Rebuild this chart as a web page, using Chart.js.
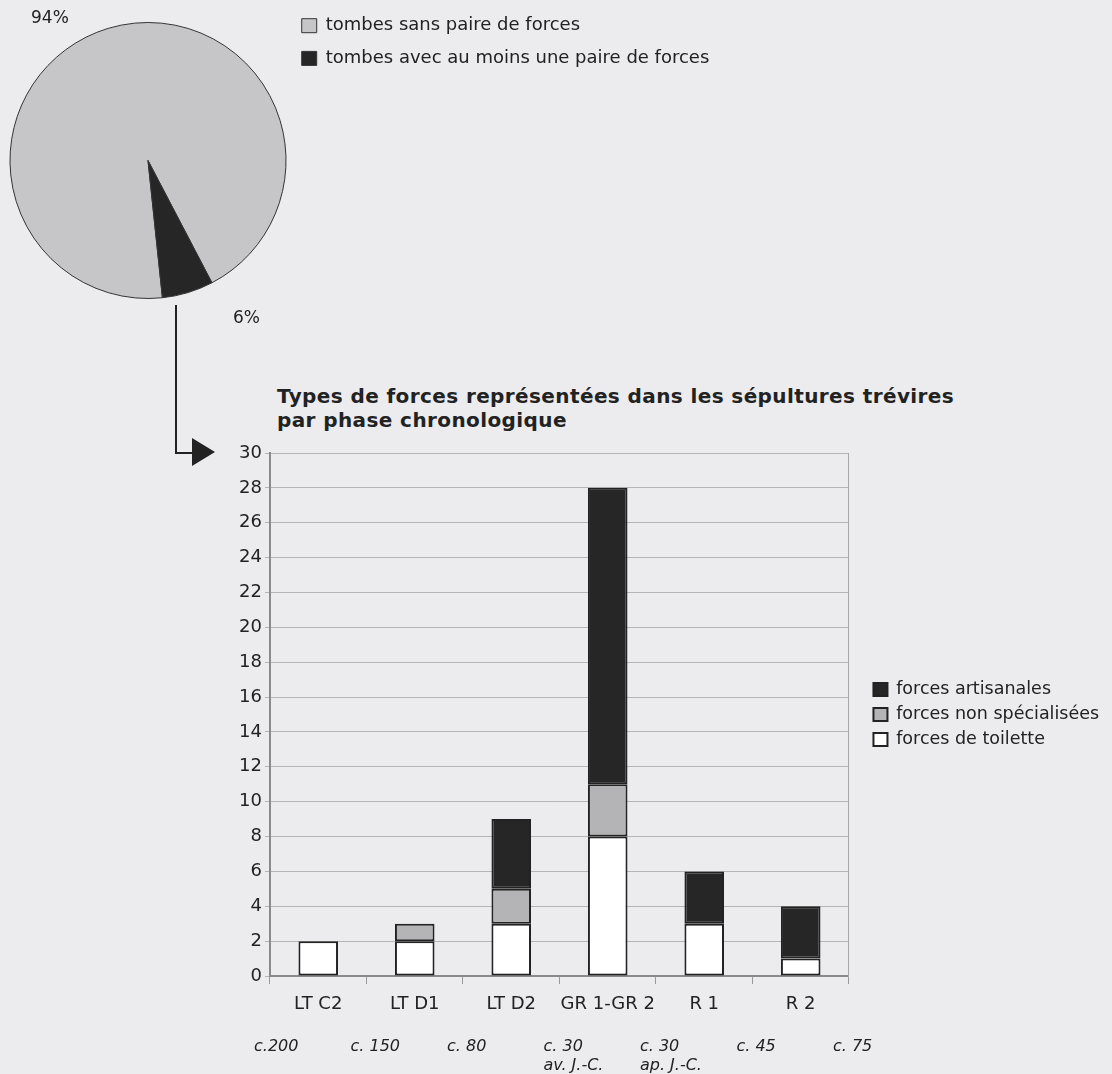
<!DOCTYPE html>
<html lang="fr">
<head>
<meta charset="utf-8">
<script src="https://cdn.jsdelivr.net/npm/chart.js@4.4.1/dist/chart.umd.min.js"></script>
<style>
  html, body { margin: 0; padding: 0; width: 1112px; height: 1074px; overflow: hidden; background: #ececee; font-family: "DejaVu Sans", Verdana, sans-serif; color: #222; }
  canvas, .txt, svg { position: absolute; }
  #pie { left: 0; top: 2px; }
  #bars { left: 200px; top: 433px; }
  .pct { font-size: 17px; }
  #title { left: 277px; top: 384px; font-weight: bold; font-size: 20px; letter-spacing: 0.4px; line-height: 24px; white-space: nowrap; }
</style>
</head>
<body>
<canvas id="pie" width="740" height="317"></canvas>
<div class="txt pct" style="left:31px;top:7px">94%</div>
<div class="txt pct" style="left:233px;top:307px">6%</div>
<svg width="230" height="480" style="left:0;top:0">
  <polyline points="176,305 176,453 194,453" fill="none" stroke="#222" stroke-width="2"/>
  <polygon points="192,438 215,452 192,466" fill="#222"/>
</svg>
<div id="title" class="txt">Types de forces représentées dans les sépultures trévires<br>par phase chronologique</div>
<canvas id="bars" width="912" height="645"></canvas>
<script>
Chart.defaults.font.family = "'DejaVu Sans', Verdana, sans-serif";
Chart.defaults.color = "#222";
Chart.defaults.animation = false;

// pie
const pieLabels = ["tombes sans paire de forces", "tombes avec au moins une paire de forces"];
const pieValues = [94, 6];

// bars
const phases = ["LT C2", "LT D1", "LT D2", "GR 1-GR 2", "R 1", "R 2"];
const dates = ["c.200", "c. 150", "c. 80", ["c. 30", "av. J.-C."], ["c. 30", "ap. J.-C."], "c. 45", "c. 75"];
const toilette = [2, 2, 3, 8, 3, 1];
const nonSpec = [0, 1, 2, 3, 0, 0];
const artisanales = [0, 0, 4, 17, 3, 3];
const yMax = 30;
const yStep = 2;

const pie = new Chart(document.getElementById("pie"), {
  type: "pie",
  data: {
    labels: pieLabels,
    datasets: [{
      data: pieValues,
      backgroundColor: ["#c6c6c8", "#262626"],
      borderColor: "#333",
      borderWidth: 1
    }]
  },
  options: {
    responsive: false,
    maintainAspectRatio: false,
    rotation: 174,
    radius: 138,
    layout: { padding: { left: 9 } },
    plugins: {
      legend: {
        position: "right",
        align: "start",
        maxWidth: 2000,
        labels: { boxWidth: 15, boxHeight: 14, padding: 14.7, font: { size: 18 }, color: "#222" }
      },
      tooltip: { enabled: false }
    }
  }
});
pie.resize(287 + pie.legend.width, 317);

const bars = new Chart(document.getElementById("bars"), {
  type: "bar",
  data: {
    labels: phases,
    datasets: [
      { label: "forces de toilette", data: toilette, backgroundColor: "#ffffff" },
      { label: "forces non spécialisées", data: nonSpec, backgroundColor: "#b4b4b6" },
      { label: "forces artisanales", data: artisanales, backgroundColor: "#262626" }
    ]
  },
  options: {
    responsive: false,
    maintainAspectRatio: false,
    layout: { padding: { top: 20 } },
    datasets: {
      bar: { borderColor: "#222", borderWidth: 2, borderSkipped: false, barPercentage: 0.41, categoryPercentage: 1 }
    },
    scales: {
      x: {
        stacked: true,
        grid: { drawOnChartArea: false, tickLength: 8, color: "#999" },
        border: { color: "#8a8a8a", width: 2 },
        ticks: { font: { size: 18 }, padding: 10, autoSkip: false, maxRotation: 0, minRotation: 0 },
        afterFit: s => { s.height = 47; }
      },
      x2: {
        type: "category",
        labels: dates,
        offset: false,
        position: "bottom",
        weight: 1,
        grid: { display: false },
        border: { display: false },
        ticks: { align: "start", labelOffset: -16, autoSkip: false, maxRotation: 0, padding: 6, font: { size: 16, style: "italic" } },
        afterFit: s => { s.height = 55; }
      },
      y: {
        stacked: true,
        min: 0,
        max: yMax,
        ticks: { stepSize: yStep, font: { size: 18 }, padding: 3 },
        grid: { color: "#b5b5b5", tickLength: 5 },
        border: { color: "#8a8a8a", width: 2 },
        afterFit: s => { s.width = 70; }
      },
      yR: {
        position: "right",
        min: 0,
        max: yMax,
        ticks: { display: false },
        grid: { display: false },
        border: { color: "#a8a8a8", width: 1 },
        afterFit: s => { s.width = 17; }
      }
    },
    plugins: {
      legend: {
        position: "right",
        fullSize: false,
        reverse: true,
        maxWidth: 2000,
        labels: { boxWidth: 14, boxHeight: 13, padding: 7.5, font: { size: 17.5 } }
      },
      tooltip: { enabled: false }
    }
  }
});
bars.resize(666 + bars.legend.width, 645);
</script>
</body>
</html>
